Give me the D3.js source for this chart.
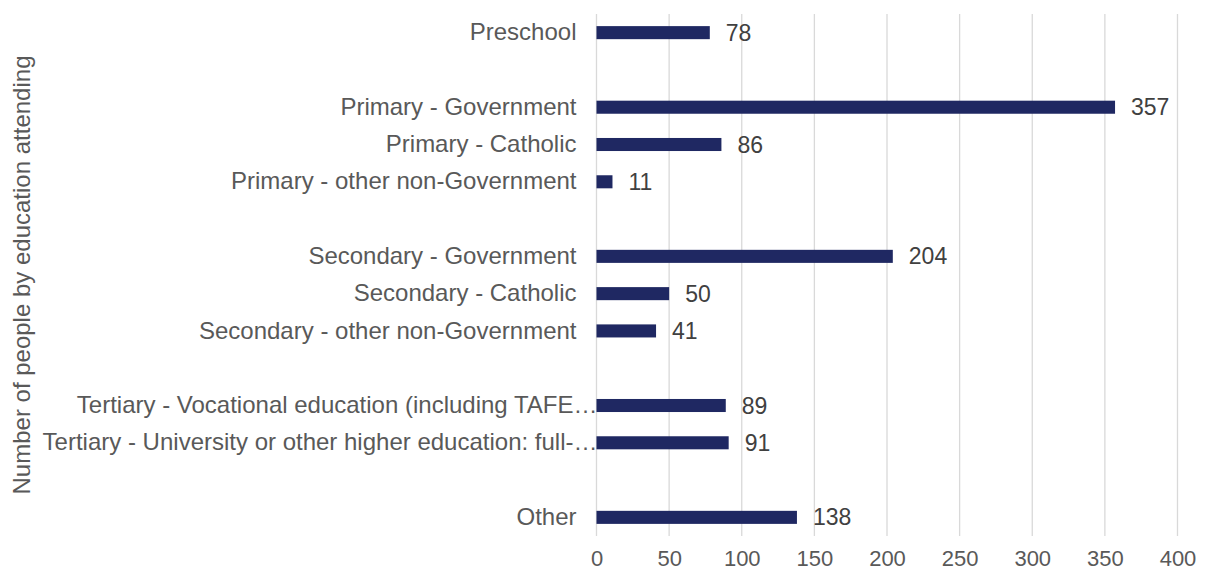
<!DOCTYPE html>
<html>
<head>
<meta charset="utf-8">
<script src="https://cdn.jsdelivr.net/npm/d3@7"></script>
<style>
  html, body { margin: 0; padding: 0; background: #ffffff; }
  svg { display: block; font-family: "Liberation Sans", Arial, sans-serif; }
</style>
</head>
<body>
<svg id="chart" width="1206" height="575"></svg>
<script>
// Education categories (empty strings are spacer rows between groups)
const categories = [
  "Preschool",
  "",
  "Primary - Government",
  "Primary - Catholic",
  "Primary - other non-Government",
  "",
  "Secondary - Government",
  "Secondary - Catholic",
  "Secondary - other non-Government",
  "",
  "Tertiary - Vocational education (including TAFE\u2026",
  "Tertiary - University or other higher education: full-\u2026",
  "",
  "Other"
];
// Number of people attending each category (null = spacer row)
const values = [78, null, 357, 86, 11, null, 204, 50, 41, null, 89, 91, null, 138];
const xTicks = [0, 50, 100, 150, 200, 250, 300, 350, 400];
const yTitle = "Number of people by education attending";

const FONT = "'Liberation Sans', Arial, sans-serif";
const rows = categories.map((c, i) => ({ i, label: c, value: values[i] }));

const svg = d3.select("#chart");
const plot = { left: 596.5, right: 1177.5, top: 14, bottom: 536 };

const x = d3.scaleLinear().domain([0, 400]).range([plot.left, plot.right]);
const y = d3.scaleBand()
  .domain(rows.map(d => d.i))
  .range([plot.top, plot.bottom])
  .paddingInner(0.65)
  .paddingOuter(0.325);

// vertical gridlines
svg.append("g")
  .selectAll("line")
  .data(xTicks)
  .join("line")
  .attr("x1", d => x(d)).attr("x2", d => x(d))
  .attr("y1", plot.top).attr("y2", plot.bottom)
  .attr("stroke", "#d9d9d9")
  .attr("stroke-width", 1.3);

// x axis tick labels
const xAxis = svg.append("g")
  .attr("transform", `translate(0,${plot.bottom})`)
  .call(d3.axisBottom(x).tickValues(xTicks).tickSize(0).tickPadding(14));
xAxis.select(".domain").remove();
xAxis.selectAll("text")
  .attr("font-size", 22)
  .attr("font-family", FONT)
  .attr("fill", "#595959");

// category labels
const yAxis = svg.append("g")
  .attr("transform", `translate(${plot.left},0)`)
  .call(d3.axisLeft(y).tickSize(0).tickPadding(20).tickFormat(i => categories[i]));
yAxis.select(".domain").remove();
yAxis.selectAll("text")
  .attr("font-size", 24)
  .attr("font-family", FONT)
  .attr("fill", "#595959")
  .attr("x", i => categories[i].endsWith("\u2026") ? 1 : -20);

// bars
const data = rows.filter(d => d.value != null);
svg.append("g")
  .selectAll("rect")
  .data(data)
  .join("rect")
  .attr("x", x(0))
  .attr("y", d => y(d.i))
  .attr("width", d => x(d.value) - x(0))
  .attr("height", y.bandwidth())
  .attr("fill", "#1f2862");

// value labels
svg.append("g")
  .selectAll("text")
  .data(data)
  .join("text")
  .attr("x", d => x(d.value) + 16)
  .attr("y", d => y(d.i) + y.bandwidth() / 2)
  .attr("dy", "0.35em")
  .attr("font-size", 23)
  .attr("font-family", FONT)
  .attr("fill", "#404040")
  .text(d => d.value);

// y axis title
svg.append("text")
  .attr("transform", `translate(30,${(plot.top + plot.bottom) / 2}) rotate(-90)`)
  .attr("text-anchor", "middle")
  .attr("font-size", 24)
  .attr("font-family", FONT)
  .attr("fill", "#595959")
  .text(yTitle);
</script>
</body>
</html>
